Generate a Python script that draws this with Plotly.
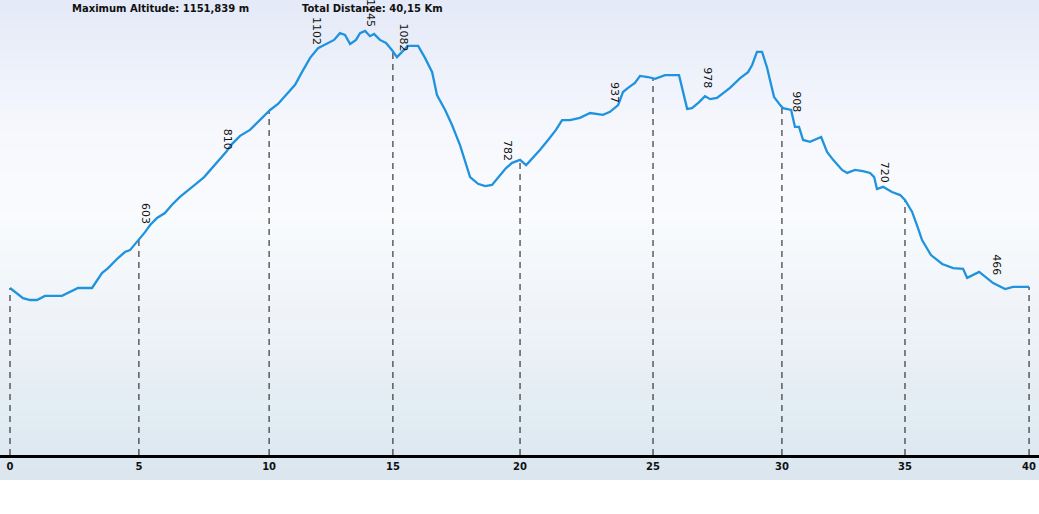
import numpy as np
import plotly.graph_objects as go

# Elevation profile (distance in km, altitude in m)
dist_km = [0, 0.51, 0.79, 1.06, 1.37, 2.04, 2.67, 3.22, 3.61, 3.85, 4.24, 4.51, 4.71,
           5.06, 5.30, 5.50, 5.77, 6.08, 6.36, 6.67, 6.99, 7.30, 7.62, 7.93, 8.24, 8.48,
           8.71, 9.03, 9.42, 9.81, 10.21, 10.52, 10.83, 11.19, 11.46, 11.78, 12.09, 12.40,
           12.72, 12.95, 13.15, 13.35, 13.58, 13.74, 13.94, 14.13, 14.29, 14.52, 14.76,
           14.99, 15.19, 15.39, 15.62, 16.02, 16.29, 16.57, 16.76, 17.08, 17.35, 17.66,
           17.90, 18.06, 18.37, 18.65, 18.92, 19.16, 19.47, 19.71, 20.02, 20.26, 20.53,
           20.80, 21.12, 21.43, 21.67, 21.98, 22.37, 22.77, 23.28, 23.55, 23.87, 24.06,
           24.26, 24.53, 24.73, 25.04, 25.32, 25.71, 26.26, 26.58, 26.77, 27.05, 27.28,
           27.48, 27.75, 27.99, 28.26, 28.66, 28.97, 29.13, 29.32, 29.52, 29.72, 29.83,
           29.99, 30.23, 30.34, 30.66, 30.81, 30.97, 31.13, 31.40, 31.60, 31.84, 32.07,
           32.31, 32.66, 32.86, 33.17, 33.48, 33.76, 33.92, 34.03, 34.27, 34.62, 34.94,
           35.13, 35.41, 35.64, 35.80, 36.15, 36.59, 37.02, 37.41, 37.57, 38.04, 38.59,
           39.06, 39.37, 40.00]
altitude_m = [466, 439, 434, 434, 445, 445, 466, 466, 506, 519, 546, 562, 567,
              594, 615, 634, 653, 666, 688, 709, 728, 744, 762, 786, 813, 829,
              850, 872, 888, 914, 941, 957, 981, 1008, 1042, 1080, 1106, 1117,
              1128, 1146, 1141, 1117, 1128, 1146, 1152, 1138, 1144, 1128, 1120,
              1101, 1082, 1096, 1112, 1112, 1080, 1042, 981, 941, 901, 848,
              794, 762, 744, 738, 741, 760, 786, 800, 808, 794, 813,
              834, 861, 888, 914, 914, 920, 933, 928, 936, 954, 989,
              1000, 1013, 1032, 1029, 1024, 1034, 1034, 944, 946, 962, 978,
              970, 973, 986, 1000, 1026, 1042, 1061, 1096, 1096, 1053, 1021,
              976, 954, 946, 941, 896, 896, 861, 856, 861, 869, 829,
              808, 781, 773, 781, 778, 773, 762, 730, 736, 722, 714,
              701, 669, 626, 594, 554, 530, 519, 517, 493, 509, 479,
              463, 469, 469]

# Kilometre markers (dashed drop lines) and their labels
marker_km = [0, 5.06, 10.17, 15.03, 20.02, 25.24, 30.30, 35.13, 40.0]
marker_labels = ["0", "5", "10", "15", "20", "25", "30", "35", "40"]

# Altitude labels along the profile
label_text = ["603", "810", "1102", "1145", "1082", "782", "937", "978", "908", "720", "466"]
label_km = [5.34, 8.52, 12.01, 14.13, 15.43, 19.55, 23.75, 27.40, 30.89, 34.31, 38.74]
label_alt = [666, 864, 1152, 1200, 1134, 834, 989, 1028, 962, 776, 527]

max_alt_text = "Maximum Altitude: 1151,839 m"
total_dist_text = "Total Distance: 40,15 Km"

Y_MIN, Y_MAX = 20.4, 1234.5
X_MIN, X_MAX = -0.3925, 40.39

fig = go.Figure()

# dashed drop lines
mk_top = np.interp(marker_km, dist_km, altitude_m)
dx, dy = [], []
for k, t in zip(marker_km, mk_top):
    dx += [k, k, None]
    dy += [Y_MIN, t, None]
fig.add_trace(go.Scatter(x=dx, y=dy, mode="lines",
                         line=dict(color="#111111", width=1, dash="6px,5px"),
                         hoverinfo="skip", showlegend=False))

fig.add_trace(go.Scatter(x=dist_km, y=altitude_m, mode="lines",
                         line=dict(color="#1f93dd", width=2.3),
                         showlegend=False))

# background gradient strips
stops = [(0, (227, 233, 247)), (60, (236, 240, 250)), (130, (246, 248, 253)),
         (220, (249, 251, 253)), (320, (238, 243, 248)), (400, (228, 237, 244)),
         (480, (218, 230, 239))]
shapes = []
PH = 455.0
n = 48
for i in range(n):
    p0 = 480 * i / n
    p1 = 480 * (i + 1) / n
    pm = (p0 + p1) / 2
    for j in range(len(stops) - 1):
        if stops[j][0] <= pm <= stops[j + 1][0]:
            a, ca = stops[j]
            b, cb = stops[j + 1]
            f = (pm - a) / (b - a)
            c = tuple(int(round(ca[q] + (cb[q] - ca[q]) * f)) for q in range(3))
            break
    shapes.append(dict(type="rect", xref="paper", yref="paper", x0=0, x1=1,
                       y0=1 - p1 / PH, y1=1 - p0 / PH, layer="below",
                       line=dict(width=0), fillcolor="rgb(%d,%d,%d)" % c))

annotations = []
for t, k, a in zip(label_text, label_km, label_alt):
    annotations.append(dict(x=k, y=a, xref="x", yref="y", text=t, showarrow=False,
                            textangle=90, xanchor="center", yanchor="middle",
                            font=dict(family="DejaVu Sans", size=11, color="#111111")))
annotations.append(dict(x=70 / 1039, y=1 - 8 / PH, xref="paper", yref="paper",
                        text="<b>%s</b>" % max_alt_text, showarrow=False,
                        xanchor="left", yanchor="middle",
                        font=dict(family="DejaVu Sans", size=10, color="#111111")))
annotations.append(dict(x=300 / 1039, y=1 - 8 / PH, xref="paper", yref="paper",
                        text="<b>%s</b>" % total_dist_text, showarrow=False,
                        xanchor="left", yanchor="middle",
                        font=dict(family="DejaVu Sans", size=10, color="#111111")))

fig.update_layout(
    width=1039, height=514,
    margin=dict(l=0, r=0, t=0, b=59, pad=0),
    paper_bgcolor="white", plot_bgcolor="rgba(0,0,0,0)",
    shapes=shapes, annotations=annotations,
    xaxis=dict(range=[X_MIN, X_MAX], showgrid=False, zeroline=False,
               showline=True, linecolor="#000000", linewidth=3,
               tickmode="array", tickvals=marker_km, ticktext=marker_labels,
               ticks="", tickfont=dict(family="DejaVu Sans", size=10, color="#111111", weight="bold")),
    yaxis=dict(range=[Y_MIN, Y_MAX], visible=False),
    showlegend=False,
)

fig.write_html("out.html", config={"displayModeBar": False},
               post_script="document.body.style.margin='0px';document.body.style.overflow='hidden';")
